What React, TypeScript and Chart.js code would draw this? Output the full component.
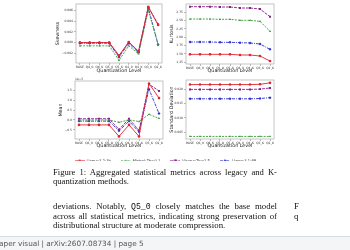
import React, { useEffect, useRef } from "react";
import { Chart, registerables } from "chart.js";

Chart.register(...registerables);
Chart.defaults.font.family = '"DejaVu Sans", sans-serif';

// Quantization levels on the shared x axis
const levels = ["BASE", "Q8_0", "Q6_K", "Q5_0", "Q5_K", "Q4_0", "Q4_K", "Q3_K", "Q2_K"];
const modelNames = ["Llama-3.2-3b", "Mistral-7b-v0.1", "Vicuna-7b-v1.5", "Llama-3.1-8B"];

// Skewness per model
const skewLlama32 = [0.0, 0.0, 0.0, 0.0, -0.0024, 0.0001, -0.0016, 0.0066, 0.0033];
const skewMistral = [-0.0006, -0.0006, -0.0006, -0.0006, -0.0033, -0.0006, -0.0021, 0.006, -0.0003];
const skewVicuna = [0.0, 0.0, 0.0, 0.0, -0.0025, 0.0001, -0.0017, 0.0067, 0.0034];
const skewLlama31 = [-0.0001, -0.0001, -0.0001, -0.0001, -0.0027, -0.0001, -0.0019, 0.0065, -0.0004];
const skewTicks = [-0.002, 0.0, 0.002, 0.004, 0.006];

// Kurtosis per model
const kurtLlama32 = [1.49, 1.49, 1.49, 1.49, 1.49, 1.47, 1.47, 1.44, 1.29];
const kurtMistral = [2.55, 2.55, 2.55, 2.54, 2.54, 2.51, 2.51, 2.48, 2.18];
const kurtVicuna = [2.92, 2.92, 2.92, 2.91, 2.91, 2.88, 2.88, 2.85, 2.62];
const kurtLlama31 = [1.86, 1.86, 1.86, 1.85, 1.85, 1.84, 1.83, 1.8, 1.64];
const kurtTicks = [1.25, 1.5, 1.75, 2.0, 2.25, 2.5, 2.75];

// Mean per model, in units of 1e-5
const meanLlama32 = [-0.25, -0.25, -0.25, -0.25, -0.83, -0.25, -0.83, 1.83, 1.1];
const meanMistral = [0.0, 0.0, 0.0, 0.0, -0.12, 0.0, -0.08, 0.28, 0.08];
const meanVicuna = [0.06, 0.06, 0.06, 0.06, -0.48, 0.06, -0.53, 1.8, 1.46];
const meanLlama31 = [-0.06, -0.06, -0.06, -0.06, -0.55, -0.06, -0.6, 1.55, 0.32];
const meanTicks = [-0.5, 0.0, 0.5, 1.0, 1.5];

// Standard deviation per model
const stdLlama32 = [0.0217, 0.0217, 0.0217, 0.0217, 0.0217, 0.0217, 0.0217, 0.0218, 0.0223];
const stdMistral = [0.0035, 0.0035, 0.0035, 0.0035, 0.0035, 0.0035, 0.0035, 0.0035, 0.0035];
const stdVicuna = [0.02, 0.02, 0.02, 0.02, 0.02, 0.02, 0.02, 0.0201, 0.0205];
const stdLlama31 = [0.0167, 0.0167, 0.0167, 0.0167, 0.0167, 0.0167, 0.0167, 0.0168, 0.0171];
const stdTicks = [0.005, 0.01, 0.015, 0.02];

// Series styling
const seriesColors = ["#e0252f", "#3c9c3c", "#8c1c8c", "#2a2ed2"];
const seriesDash: number[][] = [[], [2, 1.2], [3, 1], [3, 1, 1, 1]];
const seriesMarkers = ["circle", "triangle", "rect", "rectRot"];
const markerRadius = [1.3, 1.3, 1.4, 1.5];

const xTickIdx = levels.map((_, i) => i);
const tickFont = { size: 3, family: '"DejaVu Sans", sans-serif' };
const titleFont = { size: 4.8, family: '"DejaVu Sans", sans-serif' };

const fmt = (v: number, d: number) => v.toFixed(d).replace("-", "\u2212");

const framePlugin = {
  id: "frame",
  beforeDatasetsDraw(chart: any) {
    const { ctx, chartArea } = chart;
    if (!chartArea) return;
    ctx.save();
    ctx.strokeStyle = "#ababab";
    ctx.lineWidth = 0.7;
    ctx.strokeRect(chartArea.left, chartArea.top, chartArea.right - chartArea.left, chartArea.bottom - chartArea.top);
    ctx.restore();
  },
};

const offsetTextPlugin = {
  id: "offsetText",
  afterDraw(chart: any, _args: any, opts: any) {
    if (!opts || !opts.text) return;
    const { ctx, chartArea } = chart;
    ctx.save();
    ctx.font = '3px "DejaVu Sans", sans-serif';
    ctx.fillStyle = "#333";
    ctx.textAlign = "left";
    ctx.textBaseline = "bottom";
    ctx.fillText(opts.text, chartArea.left, chartArea.top - 0.5);
    ctx.restore();
  },
};

type PanelSpec = {
  yTitle: string;
  series: number[][];
  yMin: number;
  yMax: number;
  yTicks: number[];
  digits: number;
  yAxisWidth: number;
  xAxisHeight: number;
  padTop: number;
  padRight: number;
  titlePad: number;
  offsetText?: string;
};

function makePanel(p: PanelSpec) {
  const datasets = p.series.map((vals, s) => ({
    label: modelNames[s],
    data: vals.map((v, i) => ({ x: i, y: v })),
    borderColor: seriesColors[s],
    backgroundColor: seriesColors[s],
    borderWidth: 0.9,
    borderDash: seriesDash[s],
    pointStyle: seriesMarkers[s],
    pointRadius: markerRadius[s],
    pointBorderWidth: 0,
    tension: 0,
  }));
  return {
    type: "line",
    data: { datasets },
    options: {
      animation: false,
      responsive: false,
      devicePixelRatio: 1,
      events: [],
      layout: { padding: { top: p.padTop, right: p.padRight, left: 0, bottom: 0 } },
      plugins: {
        legend: { display: false },
        tooltip: { enabled: false },
        offsetText: { text: p.offsetText || "" },
      },
      scales: {
        x: {
          type: "linear",
          bounds: "data",
          min: -0.4,
          max: 8.4,
          afterBuildTicks: (s: any) => {
            s.ticks = xTickIdx.map((v) => ({ value: v }));
          },
          afterFit: (s: any) => {
            s.height = p.xAxisHeight;
          },
          ticks: {
            autoSkip: false,
            maxRotation: 0,
            minRotation: 0,
            padding: 0.5,
            font: tickFont,
            color: "#333",
            callback: (v: number) => levels[Math.round(v)] ?? "",
          },
          grid: { display: true, drawOnChartArea: false, drawTicks: true, tickLength: 2, color: "#777", lineWidth: 0.5 },
          border: { display: false },
          title: { display: true, text: "Quantization Level", font: titleFont, color: "#222", padding: { top: 0, bottom: 1 } },
        },
        y: {
          type: "linear",
          bounds: "data",
          min: p.yMin,
          max: p.yMax,
          afterBuildTicks: (s: any) => {
            s.ticks = p.yTicks.map((v) => ({ value: v }));
          },
          afterFit: (s: any) => {
            s.width = p.yAxisWidth;
          },
          ticks: {
            padding: 1,
            font: tickFont,
            color: "#333",
            callback: (v: number) => fmt(v, p.digits),
          },
          grid: { display: true, drawOnChartArea: false, drawTicks: true, tickLength: 2, color: "#777", lineWidth: 0.5 },
          border: { display: false },
          title: { display: true, text: p.yTitle, font: titleFont, color: "#222", padding: { top: p.titlePad, bottom: 0 } },
        },
      },
    },
    plugins: [framePlugin, offsetTextPlugin],
  };
}

function makeSymbol(s: number) {
  const c = document.createElement("canvas");
  c.width = 10;
  c.height = 5;
  const ctx = c.getContext("2d")!;
  ctx.strokeStyle = seriesColors[s];
  ctx.fillStyle = seriesColors[s];
  ctx.lineWidth = 0.9;
  ctx.setLineDash(seriesDash[s]);
  ctx.beginPath();
  ctx.moveTo(0, 2.5);
  ctx.lineTo(10, 2.5);
  ctx.stroke();
  ctx.setLineDash([]);
  const r = markerRadius[s];
  ctx.beginPath();
  if (seriesMarkers[s] === "circle") {
    ctx.arc(5, 2.5, r, 0, Math.PI * 2);
  } else if (seriesMarkers[s] === "triangle") {
    ctx.moveTo(5, 2.5 - r);
    ctx.lineTo(5 + r, 2.5 + r * 0.8);
    ctx.lineTo(5 - r, 2.5 + r * 0.8);
    ctx.closePath();
  } else if (seriesMarkers[s] === "rect") {
    ctx.rect(5 - r, 2.5 - r, r * 2, r * 2);
  } else {
    ctx.moveTo(5, 2.5 - r);
    ctx.lineTo(5 + r, 2.5);
    ctx.lineTo(5, 2.5 + r);
    ctx.lineTo(5 - r, 2.5);
    ctx.closePath();
  }
  ctx.fill();
  return c;
}

function makeLegend() {
  const symbols = modelNames.map((_, s) => makeSymbol(s));
  return {
    type: "line",
    data: {
      datasets: modelNames.map((n, s) => ({ label: n, data: [], borderColor: seriesColors[s] })),
    },
    options: {
      animation: false,
      responsive: false,
      devicePixelRatio: 1,
      events: [],
      scales: { x: { display: false }, y: { display: false } },
      plugins: {
        tooltip: { enabled: false },
        legend: {
          display: true,
          position: "top",
          align: "center",
          labels: {
            usePointStyle: true,
            pointStyleWidth: 10,
            boxHeight: 4,
            padding: 10,
            color: "#333",
            font: { size: 3.7, family: '"DejaVu Sans", sans-serif' },
            generateLabels: () =>
              modelNames.map((n, s) => ({
                text: n,
                pointStyle: symbols[s],
                fillStyle: seriesColors[s],
                strokeStyle: seriesColors[s],
                lineWidth: 0,
                hidden: false,
                datasetIndex: s,
                fontColor: "#333",
              })),
          },
        },
      },
    },
  };
}

function ChartBox({ make, left, top, width, height }: { make: () => any; left: number; top: number; width: number; height: number }) {
  const ref = useRef<HTMLCanvasElement>(null);
  useEffect(() => {
    const chart = new Chart(ref.current as HTMLCanvasElement, make());
    return () => chart.destroy();
  }, []);
  return (
    <canvas
      ref={ref}
      width={width}
      height={height}
      style={{ position: "absolute", left, top, width, height }}
    />
  );
}

const skewPanel: PanelSpec = {
  yTitle: "Skewness",
  series: [skewLlama32, skewMistral, skewVicuna, skewLlama31],
  yMin: -0.0038,
  yMax: 0.0072,
  yTicks: skewTicks,
  digits: 3,
  yAxisWidth: 26,
  xAxisHeight: 12,
  padTop: 4,
  padRight: 8,
  titlePad: 5,
};

const kurtPanel: PanelSpec = {
  yTitle: "Kurtosis",
  series: [kurtLlama32, kurtMistral, kurtVicuna, kurtLlama31],
  yMin: 1.2,
  yMax: 3.0,
  yTicks: kurtTicks,
  digits: 2,
  yAxisWidth: 21,
  xAxisHeight: 11,
  padTop: 4,
  padRight: 11,
  titlePad: 4,
};

const meanPanel: PanelSpec = {
  yTitle: "Mean",
  series: [meanLlama32, meanMistral, meanVicuna, meanLlama31],
  yMin: -0.96,
  yMax: 1.96,
  yTicks: meanTicks,
  digits: 1,
  yAxisWidth: 25,
  xAxisHeight: 11,
  padTop: 6,
  padRight: 7,
  titlePad: 8,
  offsetText: "1e\u22125",
};

const stdPanel: PanelSpec = {
  yTitle: "Standard Deviation",
  series: [stdLlama32, stdMistral, stdVicuna, stdLlama31],
  yMin: 0.0026,
  yMax: 0.0233,
  yTicks: stdTicks,
  digits: 3,
  yAxisWidth: 21,
  xAxisHeight: 11,
  padTop: 5,
  padRight: 11,
  titlePad: 4,
};

const serif = '"Liberation Serif", "Times New Roman", serif';

function Line({ top, size, lh, justify, children, left = 53, width = 224 }: any) {
  return (
    <div
      style={{
        position: "absolute",
        left,
        top,
        width,
        height: lh,
        lineHeight: `${lh}px`,
        fontFamily: serif,
        fontSize: size,
        color: "#111",
        whiteSpace: "nowrap",
        textAlign: justify ? "justify" : "left",
        textAlignLast: justify ? "justify" : "left",
      } as any}
    >
      {children}
    </div>
  );
}

export default function App() {
  return (
    <div
      style={{
        position: "fixed",
        left: 0,
        top: 0,
        width: 350,
        height: 250,
        overflow: "hidden",
        background: "#ffffff",
      }}
    >
      <ChartBox make={() => makePanel(skewPanel)} left={50} top={0} width={120} height={75} />
      <ChartBox make={() => makePanel(kurtPanel)} left={165} top={0} width={120} height={75} />
      <ChartBox make={() => makePanel(meanPanel)} left={50} top={75} width={120} height={75} />
      <ChartBox make={() => makePanel(stdPanel)} left={165} top={75} width={120} height={75} />
      <ChartBox make={makeLegend} left={0} top={149} width={331} height={24} />

      <Line top={167.5} size={8.6} lh={9} justify>
        Figure 1: Aggregated statistical metrics across legacy and K-
      </Line>
      <Line top={176.5} size={8.6} lh={9}>
        quantization methods.
      </Line>

      <Line top={202} size={8.8} lh={9.5} justify>
        deviations. Notably, <span style={{ fontFamily: '"Liberation Mono", monospace', fontSize: 8.2 }}>Q5_0</span> closely matches the base model
      </Line>
      <Line top={211.5} size={8.8} lh={9.5} justify>
        across all statistical metrics, indicating strong preservation of
      </Line>
      <Line top={221} size={8.8} lh={9.5}>
        distributional structure at moderate compression.
      </Line>
      <Line top={202} size={8.8} lh={9.5} left={294} width={20}>
        F
      </Line>
      <Line top={211.5} size={8.8} lh={9.5} left={294} width={20}>
        q
      </Line>

      <div
        style={{
          position: "absolute",
          left: 0,
          top: 236,
          width: 350,
          height: 14,
          background: "#f4f5f7",
          borderTop: "1px solid #d9dce1",
          boxSizing: "border-box",
          overflow: "hidden",
        }}
      >
        <div
          style={{
            position: "absolute",
            left: -5,
            top: 1.5,
            fontFamily: '"DejaVu Sans", sans-serif',
            fontSize: 7.3,
            lineHeight: "9px",
            color: "#555",
            whiteSpace: "nowrap",
          }}
        >
          Paper visual | arXiv:2607.08734 | page 5
        </div>
      </div>
    </div>
  );
}
